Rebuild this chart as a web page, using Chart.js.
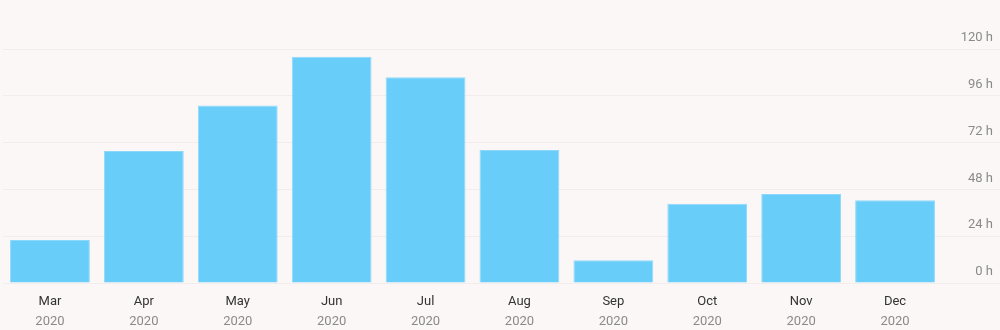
<!DOCTYPE html>
<html>
<head>
<meta charset="utf-8">
<script src="https://cdn.jsdelivr.net/npm/chart.js@4"></script>
<style>
  html, body { margin: 0; padding: 0; background: #fcf7f7; }
  #wrap { width: 1000px; height: 330px; position: relative; }
</style>
</head>
<body>
<div id="wrap"><canvas id="c"></canvas></div>
<script>
const months = ["Mar", "Apr", "May", "Jun", "Jul", "Aug", "Sep", "Oct", "Nov", "Dec"];
const years = ["2020", "2020", "2020", "2020", "2020", "2020", "2020", "2020", "2020", "2020"];
const hours = [22.1, 67.7, 91.0, 116.0, 105.5, 68.2, 11.7, 40.6, 45.7, 42.5];
const yTicks = [0, 24, 48, 72, 96, 120];

Chart.defaults.font.family = "Roboto, 'Noto Sans', sans-serif";
Chart.defaults.font.size = 13;

new Chart(document.getElementById('c'), {
  type: 'bar',
  data: {
    labels: months,
    datasets: [{
      data: hours,
      backgroundColor: '#69cdf9',
      borderColor: '#8dd8fa',
      borderWidth: 1,
      categoryPercentage: 1,
      barPercentage: 0.85
    }]
  },
  options: {
    responsive: true,
    maintainAspectRatio: false,
    animation: false,
    layout: { padding: { top: 49, right: 7, left: 3, bottom: 0 } },
    plugins: { legend: { display: false }, tooltip: { enabled: false } },
    scales: {
      x: {
        position: 'bottom',
        grid: { display: false, drawTicks: false },
        border: { display: false },
        afterFit: (scale) => { scale.height = 26; },
        ticks: { color: '#333333', padding: 11, font: { size: 13 } }
      },
      x2: {
        type: 'category',
        labels: years,
        position: 'bottom',
        offset: true,
        grid: { display: false, drawTicks: false },
        border: { display: false },
        afterFit: (scale) => { scale.height = 21; },
        ticks: { color: '#8a8a8a', padding: 5, font: { size: 13 } }
      },
      y: {
        position: 'right',
        min: 0,
        max: 120,
        afterBuildTicks: (scale) => { scale.ticks = yTicks.map(v => ({ value: v })); },
        afterFit: (scale) => { scale.width = 51; },
        grid: { color: '#f3ecec', tickColor: '#f3ecec', tickLength: 58, lineWidth: 1 },
        border: { display: false },
        ticks: {
          color: '#8a8a8a',
          crossAlign: 'far',
          labelOffset: -11,
          font: { size: 13 },
          callback: (v) => v + ' h'
        }
      }
    }
  }
});
</script>
</body>
</html>
